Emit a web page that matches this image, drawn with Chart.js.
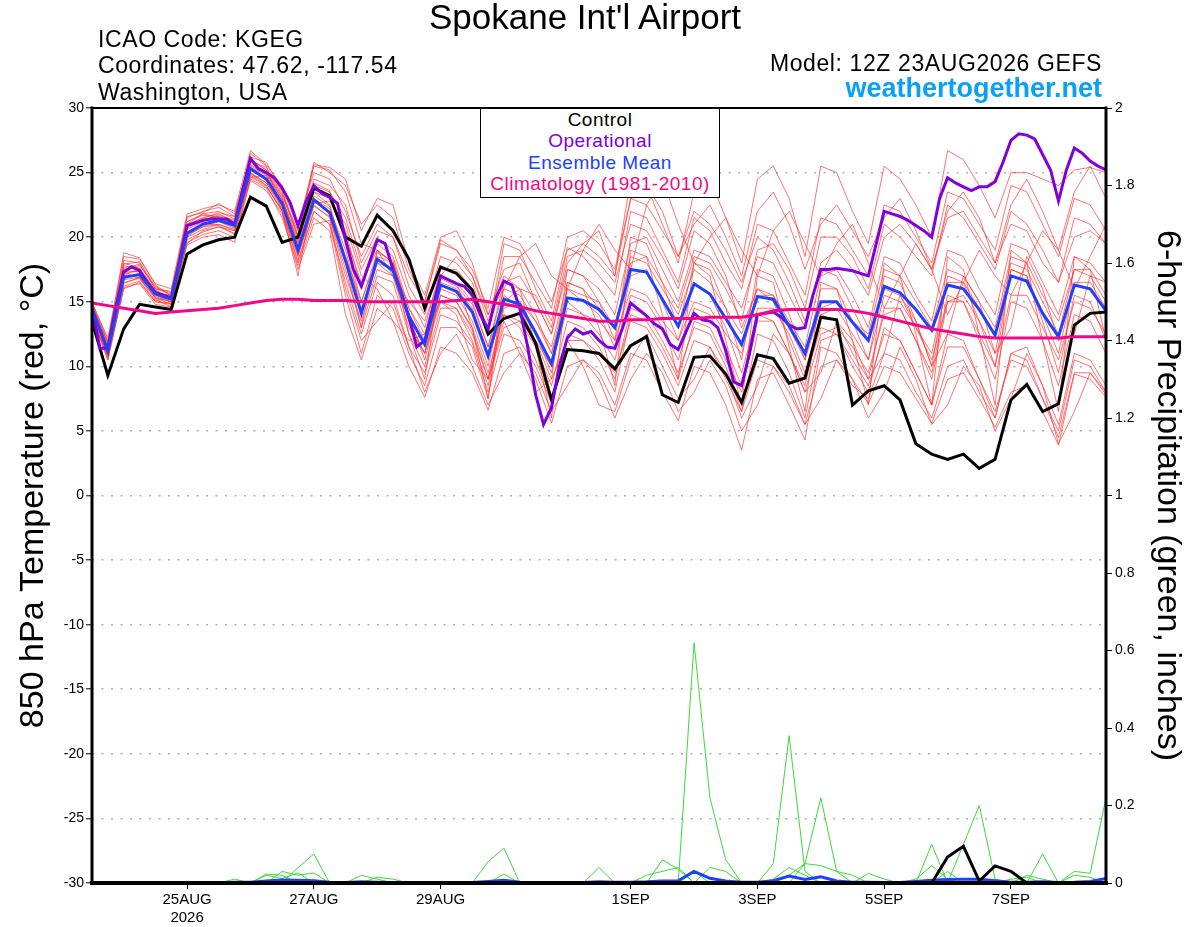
<!DOCTYPE html>
<html>
<head>
<meta charset="utf-8">
<title>Spokane Int'l Airport - GEFS meteogram</title>
<script src="https://cdn.jsdelivr.net/npm/chart.js@4.4.1/dist/chart.umd.min.js"></script>
<style>
  html, body { margin: 0; padding: 0; background: #fff; }
  #wrap { position: relative; width: 1200px; height: 927px; font-family: "Liberation Sans", Arial, sans-serif; color: #000; }
  #chart { position: absolute; left: 0; top: 0; }
  .txt { position: absolute; white-space: nowrap; }
  #title { left: 335px; width: 500px; top: -3px; text-align: center; font-size: 35px; }
  .info { left: 98px; font-size: 23px; letter-spacing: 0.6px; }
  .right { right: 98px; text-align: right; }
  #model { top: 50px; font-size: 23px; letter-spacing: 0.6px; }
  #site { top: 73px; font-size: 27px; font-weight: bold; color: #0aa0f5; }
  #legend {
    position: absolute; left: 480px; top: 108px; width: 240px; height: 90px;
    background: #fff; border: 1px solid #000; box-sizing: border-box;
    text-align: center; font-size: 19px; letter-spacing: 0.5px; line-height: 21.4px; padding-top: 0px;
  }
</style>
</head>
<body>
<div id="wrap">
  <canvas id="chart" width="1200" height="927"></canvas>
  <div class="txt" id="title">Spokane Int'l Airport</div>
  <div class="txt info" style="top:26px">ICAO Code: KGEG</div>
  <div class="txt info" style="top:52px">Coordinates: 47.62, -117.54</div>
  <div class="txt info" style="top:79px">Washington, USA</div>
  <div class="txt right" id="model">Model: 12Z 23AUG2026 GEFS</div>
  <div class="txt right" id="site">weathertogether.net</div>
  <div id="legend">
    <div style="color:#000">Control</div>
    <div style="color:#8000dc">Operational</div>
    <div style="color:#2040ff">Ensemble Mean</div>
    <div style="color:#f0088c">Climatology (1981-2010)</div>
  </div>
</div>
<script>
// Hours after 12Z 23AUG2026; the axis runs 16 days.
const AXIS_HOURS = 384;
const tickHours = [36, 84, 132, 204, 252, 300, 348];
const tickLabels = [["25AUG", "2026"], ["27AUG"], ["29AUG"], ["1SEP"], ["3SEP"], ["5SEP"], ["7SEP"]];

// 850 hPa temperature (degC), 6-hourly unless noted
const control = [13.5, 9.3, 12.9, 14.8, 14.6, 14.4, 18.7, 19.4, 19.8, 20.0,
  23.1, 22.4, 19.6, 20.0, 23.8, 23.2, 20.0, 19.3, 21.7, 20.5,
  18.3, 14.5, 17.7, 17.2, 15.9, 12.5, 13.7, 14.1, 11.8, 7.4,
  11.3, 11.2, 11.0, 9.8, 11.6, 12.3, 7.8, 7.2, 10.7, 10.8,
  9.4, 7.2, 10.9, 10.6, 8.7, 9.1, 13.8, 13.6, 7.0, 8.1,
  8.5, 7.4, 4.0, 3.2, 2.8, 3.2, 2.1, 2.8, 7.4, 8.6,
  6.5, 7.1, 13.2, 14.1, 14.2];

// operational run is 3-hourly
const operational = [14.5, 11.4, 11.4, 14.5, 17.3, 17.7, 17.4, 16.5, 15.7, 15.5,
  15.3, 18.0, 20.9, 21.1, 21.3, 21.4, 21.4, 21.4, 21.0, 23.6,
  26.1, 25.3, 25.0, 24.6, 23.8, 22.7, 20.9, 22.7, 24.0, 23.4,
  23.1, 22.6, 19.8, 17.5, 16.2, 18.0, 19.8, 19.5, 17.5, 15.8,
  13.8, 11.5, 12.0, 14.5, 17.0, 16.7, 16.4, 16.2, 15.5, 14.0,
  12.9, 15.3, 16.6, 16.3, 14.5, 11.5, 7.8, 5.5, 6.8, 10.0,
  12.2, 12.9, 12.5, 12.7, 12.0, 11.5, 11.4, 13.0, 14.9, 14.4,
  13.9, 13.3, 12.9, 11.7, 11.3, 12.7, 14.1, 13.6, 13.5, 13.0,
  11.2, 8.8, 8.5, 11.0, 14.0, 14.1, 14.2, 13.8, 13.2, 12.9,
  13.0, 15.5, 17.5, 17.5, 17.6, 17.5, 17.4, 17.2, 17.0, 19.5,
  22.0, 21.8, 21.6, 21.3, 20.9, 20.5, 20.0, 23.0, 24.6, 24.2,
  23.9, 23.6, 23.9, 23.9, 24.3, 25.8, 27.5, 28.0, 27.9, 27.6,
  26.4, 25.2, 22.8, 25.2, 26.9, 26.5, 25.9, 25.5, 25.2];

const ensembleMean = [14.5, 11.2, 16.9, 17.1, 15.6, 15.2, 20.3, 21.0, 21.3, 20.9,
  25.3, 24.5, 22.6, 19.0, 22.9, 21.9, 18.2, 14.1, 18.3, 17.4,
  13.9, 11.7, 16.3, 15.8, 14.2, 10.8, 15.2, 14.8, 12.6, 10.2,
  15.3, 15.1, 14.4, 13.0, 17.5, 17.3, 15.2, 13.1, 16.4, 15.6,
  13.7, 11.7, 15.4, 15.2, 13.1, 11.0, 15.0, 15.0, 13.4, 12.0,
  16.2, 15.7, 14.4, 12.8, 16.3, 16.0, 14.4, 12.4, 17.0, 16.6,
  14.1, 12.3, 16.3, 16.0, 14.3];

const climatology = [14.9, 14.7, 14.5, 14.3, 14.1, 14.2, 14.3, 14.4, 14.5, 14.7,
  14.9, 15.1, 15.2, 15.2, 15.1, 15.1, 15.1, 15.0, 15.0, 15.0,
  15.0, 15.0, 15.0, 15.1, 15.2, 15.0, 14.8, 14.6, 14.3, 14.1,
  13.9, 13.7, 13.5, 13.5, 13.6, 13.6, 13.7, 13.7, 13.7, 13.8,
  13.8, 13.8, 14.0, 14.3, 14.4, 14.4, 14.4, 14.4, 14.3, 14.1,
  13.8, 13.5, 13.2, 12.9, 12.7, 12.5, 12.3, 12.2, 12.2, 12.2,
  12.2, 12.2, 12.3, 12.3, 12.3];

// ensemble members, 850 hPa temperature
const ens01 = [14.8, 11.8, 18.2, 18.0, 16.0, 15.8, 21.5, 22.0, 22.3, 21.6,
  26.0, 25.2, 23.5, 20.2, 24.5, 24.0,
  22.5, 18.0, 20.5, 20.0, 16.2, 14.0, 18.5, 18.0, 16.5, 12.8,
  19.5, 19.0, 16.0, 13.5, 19.2, 18.5, 17.0, 15.5, 22.0, 21.5, 19.0, 16.5, 21.5, 20.5, 18.0,
  16.0, 21.0, 20.5, 18.0, 15.5, 21.5, 21.0, 19.0, 17.0, 22.5, 22.0, 20.0, 18.0, 23.5, 23.0, 21.0, 19.0, 24.0, 23.5, 21.0, 18.5, 23.0, 22.5, 20.5];
const ens02 = [14.0, 10.5, 16.0, 16.5, 15.0, 14.8, 19.5, 20.5, 20.8, 20.5,
  24.8, 24.0, 22.0, 18.2, 22.0, 21.0,
  16.5, 12.5, 16.5, 15.5, 11.5, 9.5, 14.0, 13.5, 11.8, 8.0,
  12.5, 12.0, 10.0, 7.2, 12.0, 12.0, 11.0, 9.5, 13.5, 13.0, 11.0, 8.5, 12.0, 11.5, 9.0,
  6.5, 10.5, 10.0, 8.0, 5.5, 10.0, 10.5, 8.5, 7.5, 11.0, 10.5, 8.0, 6.0, 10.0, 10.5, 8.0, 6.0, 11.0, 10.5, 7.5, 5.0, 10.5, 10.0, 8.0];
const ens03 = [15.0, 12.0, 17.5, 17.8, 16.2, 15.5, 20.8, 21.5, 21.8, 21.2,
  25.8, 25.0, 23.2, 20.5, 25.8, 25.0,
  24.0, 21.0, 22.5, 21.5, 17.5, 15.0, 19.8, 19.0, 17.0, 13.5,
  17.0, 16.0, 14.0, 11.0, 16.0, 15.5, 15.0, 13.0, 18.0, 18.5, 16.5, 14.5, 18.5, 18.0, 16.0,
  13.5, 19.0, 19.5, 17.5, 14.5, 20.0, 20.0, 18.5, 16.0, 21.0, 20.0, 18.5, 17.0, 22.5, 21.5, 19.5, 17.5, 22.0, 21.0, 19.0, 16.5, 21.5, 21.0, 19.5];
const ens04 = [14.2, 11.0, 16.5, 16.8, 15.4, 15.0, 20.0, 20.6, 21.0, 20.5,
  25.0, 24.0, 22.0, 18.0, 22.0, 21.0,
  15.5, 11.0, 15.5, 14.5, 11.0, 8.5, 13.0, 13.0, 11.5, 7.5,
  15.0, 16.0, 15.5, 13.0, 18.5, 19.0, 18.0, 16.5, 21.0, 20.5, 18.5, 16.0, 20.5, 19.5, 17.0,
  13.0, 16.0, 15.0, 12.0, 9.0, 13.0, 12.5, 10.5, 8.5, 12.5, 12.0, 9.5, 7.0, 11.5, 11.5, 9.0, 6.5, 10.5, 10.0, 7.5, 4.5, 9.5, 9.5, 7.8];
const ens05 = [14.6, 10.8, 18.0, 17.6, 15.2, 14.6, 21.0, 21.8, 21.5, 20.8,
  26.5, 25.5, 22.0, 17.0, 23.5, 22.5,
  18.0, 13.0, 19.0, 18.0, 12.5, 9.0, 17.0, 16.5, 13.0, 7.5,
  16.5, 16.0, 11.5, 6.0, 16.5, 16.0, 13.0, 8.5, 19.0, 18.5, 14.0, 9.0, 18.0, 17.0, 12.0,
  7.0, 17.0, 16.5, 11.5, 6.5, 16.5, 16.0, 12.0, 7.0, 18.0, 17.0, 12.5, 7.0, 18.5, 17.5, 12.5, 7.0, 19.0, 18.0, 12.0, 6.5, 18.5, 17.5, 12.0];
const ens06 = [14.9, 12.2, 18.5, 18.3, 16.4, 16.0, 21.8, 22.2, 22.5, 22.0,
  26.7, 25.6, 24.0, 21.0, 25.0, 24.5,
  22.0, 18.5, 21.0, 20.0, 17.0, 15.0, 19.5, 19.0, 17.5, 14.5,
  20.0, 19.5, 17.5, 15.0, 19.0, 19.5, 18.5, 17.0, 24.5, 24.0, 21.0, 18.0, 23.5, 24.5, 21.5,
  18.0, 24.5, 25.5, 23.0, 18.5, 25.5, 25.0, 22.0, 19.5, 25.5, 24.5, 22.5, 20.0, 26.7, 26.0, 24.0, 21.5, 25.0, 25.0, 24.5, 24.0, 25.2, 25.4, 25.0];
const ens07 = [13.8, 10.5, 16.2, 16.6, 15.0, 14.9, 19.4, 20.0, 20.2, 19.6,
  24.5, 23.8, 21.5, 17.8, 21.5, 20.5,
  14.0, 10.5, 14.5, 13.5, 10.0, 7.6, 11.5, 11.0, 9.5, 6.6,
  11.0, 11.5, 9.0, 5.6, 10.0, 10.5, 9.5, 7.0, 11.0, 10.5, 8.0, 5.8, 10.0, 9.5, 7.0,
  3.5, 9.0, 9.5, 7.0, 4.3, 11.5, 11.0, 9.0, 7.1, 10.0, 9.5, 7.5, 5.6, 9.0, 9.5, 7.5, 5.3, 8.0, 8.5, 6.5, 3.9, 9.4, 9.0, 7.6];
const ens08 = [14.3, 11.5, 17.2, 17.4, 15.8, 15.4, 20.6, 21.2, 21.5, 21.0,
  25.2, 24.6, 22.8, 19.5, 23.5, 23.0,
  20.5, 16.0, 19.5, 18.5, 14.5, 12.0, 16.5, 16.0, 14.5, 11.0,
  14.0, 13.5, 12.0, 10.0, 14.5, 14.0, 13.5, 12.0, 16.0, 15.5, 13.5, 12.0, 15.0, 14.5, 12.5,
  11.0, 15.5, 15.5, 13.5, 11.5, 17.0, 17.5, 15.5, 13.0, 18.5, 18.0, 15.5, 13.5, 19.0, 18.5, 16.0, 14.0, 19.5, 19.0, 16.5, 14.0, 18.5, 18.0, 16.5];
const ens09 = [14.7, 11.3, 17.0, 17.0, 15.5, 15.0, 20.2, 20.8, 21.0, 20.6,
  25.0, 24.2, 22.2, 18.5, 22.5, 21.5,
  17.0, 13.5, 17.5, 17.0, 13.5, 11.0, 15.5, 15.0, 13.0, 9.5,
  14.0, 13.0, 10.5, 7.5, 12.5, 12.0, 10.5, 8.0, 14.0, 13.5, 11.5, 9.0, 13.5, 13.0, 10.5,
  8.0, 13.5, 13.5, 11.0, 8.5, 14.0, 14.5, 12.5, 10.5, 15.5, 15.0, 13.0, 11.0, 16.5, 16.5, 14.5, 12.5, 18.0, 17.5, 15.0, 12.5, 17.5, 17.0, 15.0];
const ens10 = [14.4, 11.2, 17.6, 17.9, 16.0, 15.6, 21.2, 21.8, 22.0, 21.4,
  25.6, 25.0, 23.0, 19.8, 24.0, 23.5,
  21.5, 17.5, 20.0, 19.0, 15.5, 13.0, 17.5, 17.5, 16.0, 12.5,
  18.5, 18.5, 16.5, 14.5, 20.0, 20.5, 19.5, 17.5, 23.0, 22.5, 20.5, 18.5, 22.0, 21.0, 19.0,
  16.5, 20.0, 19.0, 16.5, 13.5, 17.5, 17.0, 14.5, 12.0, 16.0, 15.5, 13.0, 10.5, 15.0, 15.0, 12.5, 10.0, 15.5, 15.5, 13.0, 10.5, 15.0, 14.5, 12.5];
const ens11 = [14.1, 10.9, 16.7, 16.9, 15.3, 14.8, 19.8, 20.4, 20.8, 20.3,
  24.9, 24.2, 22.4, 19.0, 23.0, 22.2,
  19.0, 14.5, 18.0, 17.0, 13.0, 11.0, 16.0, 15.5, 13.5, 10.0,
  15.5, 14.5, 12.5, 9.5, 16.0, 15.0, 14.0, 11.5, 17.0, 17.5, 15.0, 12.0, 16.5, 15.5, 13.0,
  9.5, 14.0, 13.5, 11.0, 8.0, 12.5, 13.0, 11.5, 9.5, 14.0, 14.5, 12.0, 9.0, 15.0, 15.5, 13.5, 11.0, 17.5, 17.0, 14.0, 11.0, 16.5, 16.5, 14.5];
const ens12 = [14.5, 11.6, 17.8, 17.5, 15.9, 15.3, 20.7, 21.4, 21.6, 21.1,
  25.4, 24.8, 22.9, 19.3, 23.2, 22.4,
  18.5, 15.0, 18.5, 18.0, 14.0, 11.5, 16.8, 16.2, 14.8, 11.5,
  16.0, 15.5, 13.5, 11.5, 16.5, 16.0, 14.5, 13.0, 18.5, 18.0, 16.0, 14.0, 17.5, 16.5, 14.5,
  12.5, 16.0, 15.5, 13.0, 10.5, 14.5, 15.0, 13.5, 12.5, 17.5, 17.0, 15.0, 13.0, 17.5, 17.0, 15.0, 13.0, 18.5, 18.0, 15.5, 13.5, 17.5, 17.5, 15.5];
const ens13 = [14.6, 11.0, 16.8, 17.2, 15.6, 15.1, 20.4, 21.0, 21.2, 20.9,
  25.2, 24.4, 22.5, 18.8, 22.8, 21.8,
  18.0, 14.0, 18.0, 17.5, 13.5, 11.0, 15.0, 14.5, 12.5, 9.0,
  13.0, 13.5, 11.5, 8.5, 13.5, 13.0, 11.5, 9.0, 14.5, 14.0, 12.0, 9.5, 13.0, 12.5, 10.0,
  6.5, 12.5, 12.0, 9.5, 6.0, 12.0, 12.5, 10.0, 8.0, 13.0, 12.0, 9.5, 7.0, 12.5, 12.0, 9.0, 6.0, 11.0, 11.5, 8.5, 5.5, 11.0, 10.5, 8.5];
const ens14 = [14.3, 11.4, 17.4, 17.3, 15.7, 15.5, 20.9, 21.3, 21.7, 21.3,
  25.5, 24.9, 23.0, 19.6, 23.8, 23.0,
  20.0, 16.5, 19.0, 18.0, 14.5, 12.5, 17.0, 16.5, 15.0, 11.5,
  16.5, 17.0, 15.0, 12.5, 17.5, 17.0, 16.0, 14.0, 19.5, 20.0, 17.5, 15.0, 19.0, 18.5, 16.5,
  14.5, 18.5, 18.0, 15.5, 13.0, 18.0, 19.0, 17.5, 15.5, 20.0, 21.0, 19.5, 17.5, 21.5, 22.0, 20.0, 18.0, 21.0, 20.5, 18.0, 16.5, 20.0, 20.5, 19.5];
const ens15 = [14.8, 11.7, 17.9, 18.1, 16.1, 15.7, 21.0, 21.5, 21.9, 21.6,
  26.0, 25.2, 23.3, 20.0, 24.2, 23.6,
  19.5, 15.0, 18.8, 18.2, 14.0, 10.5, 15.5, 15.0, 12.8, 9.0,
  15.0, 14.5, 12.0, 9.0, 17.5, 17.0, 15.0, 12.0, 20.0, 19.5, 16.5, 13.0, 18.0, 17.5, 14.5,
  10.5, 17.5, 17.0, 14.0, 10.5, 16.0, 16.0, 13.5, 10.5, 17.0, 16.5, 13.5, 10.0, 17.0, 16.5, 13.5, 10.0, 17.5, 17.0, 13.5, 9.5, 15.5, 15.0, 12.0];
const ens16 = [14.0, 10.8, 16.4, 16.9, 15.3, 15.0, 20.1, 20.8, 21.2, 20.7,
  24.7, 23.9, 22.1, 18.6, 22.4, 21.6,
  17.5, 13.0, 17.0, 16.5, 12.5, 10.0, 14.5, 14.5, 12.0, 8.5,
  14.5, 15.0, 13.5, 11.0, 15.0, 14.0, 12.5, 10.5, 15.5, 15.0, 13.0, 10.5, 14.5, 14.0, 11.5,
  8.5, 14.5, 14.5, 12.5, 9.5, 14.0, 13.5, 11.0, 9.0, 14.5, 14.5, 12.0, 9.5, 15.5, 15.0, 12.0, 9.0, 15.0, 14.5, 12.0, 8.5, 14.0, 13.5, 11.0];
const ens17 = [14.2, 11.6, 17.0, 17.6, 15.9, 15.2, 21.2, 21.7, 21.6, 21.0,
  25.9, 25.4, 23.8, 20.8, 25.5, 25.2,
  23.5, 19.5, 19.0, 17.0, 15.0, 13.5, 17.0, 18.5, 17.0, 14.0,
  16.0, 18.5, 19.5, 17.0, 16.0, 19.0, 21.0, 19.0, 17.5, 22.5, 24.5, 21.0, 18.0, 20.0, 21.5,
  19.0, 17.0, 20.5, 22.0, 19.5, 17.0, 19.5, 21.0, 18.0, 14.5, 17.0, 19.5, 17.5, 14.0, 16.5, 19.0, 17.0, 15.5, 18.0, 20.5, 19.0, 16.0, 18.5, 21.0];
const ens18 = [14.4, 10.9, 17.3, 16.8, 15.1, 15.3, 20.0, 21.1, 20.9, 20.2,
  24.6, 24.8, 22.6, 19.2, 22.6, 22.8,
  21.0, 17.0, 16.0, 13.5, 12.0, 12.5, 15.0, 14.0, 10.5, 9.0,
  13.5, 11.0, 8.0, 9.0, 12.0, 10.0, 7.0, 6.5, 10.5, 12.5, 10.0, 7.5, 9.0, 11.5, 9.5,
  6.0, 8.5, 12.5, 11.0, 8.0, 9.5, 13.5, 12.0, 9.0, 11.0, 15.5, 13.5, 10.0, 12.5, 17.0, 15.0, 11.0, 13.0, 18.5, 16.0, 12.0, 12.5, 17.0, 16.5];
const ens19 = [14.7, 11.9, 18.8, 18.4, 16.3, 15.4, 21.6, 21.9, 22.6, 21.8,
  26.2, 25.8, 23.6, 20.0, 25.6, 25.4,
  24.5, 20.5, 23.0, 22.5, 18.0, 15.5, 20.0, 20.5, 18.0, 14.0,
  17.5, 18.0, 15.0, 12.5, 18.0, 19.5, 20.5, 17.0, 23.0, 24.0, 22.0, 18.5, 21.0, 22.5, 20.0,
  17.0, 22.0, 23.5, 21.0, 17.5, 21.0, 22.5, 20.5, 18.5, 21.5, 23.0, 20.5, 17.5, 22.0, 23.5, 21.5, 18.0, 22.5, 24.5, 22.0, 19.0, 23.5, 25.5, 23.0];
const ens20 = [13.9, 10.7, 16.1, 16.4, 14.8, 14.6, 19.6, 20.2, 20.5, 20.0,
  24.4, 23.6, 21.8, 17.5, 21.0, 21.3,
  16.0, 12.0, 13.5, 15.0, 11.5, 8.0, 11.0, 12.5, 10.0, 7.0,
  9.5, 11.0, 9.5, 6.5, 8.5, 10.5, 9.0, 6.0, 9.0, 11.0, 9.5, 6.5, 8.0, 10.5, 8.5,
  5.0, 7.0, 10.0, 8.5, 5.5, 7.5, 10.5, 9.0, 6.0, 8.0, 11.5, 9.0, 5.5, 7.0, 10.0, 8.5, 5.0, 7.5, 11.0, 8.5, 4.0, 6.5, 9.5, 8.0];
const ensMembers = [ens01, ens02, ens03, ens04, ens05, ens06, ens07, ens08, ens09, ens10,
  ens11, ens12, ens13, ens14, ens15, ens16, ens17, ens18, ens19, ens20];

// 6-hour precipitation (inches)
const controlPrecip = [0, 0, 0, 0, 0, 0, 0, 0, 0, 0,
  0, 0, 0, 0, 0, 0, 0, 0, 0, 0,
  0, 0, 0, 0, 0, 0, 0, 0, 0, 0,
  0, 0, 0, 0, 0, 0, 0, 0, 0, 0,
  0, 0, 0, 0, 0, 0, 0, 0, 0, 0,
  0, 0, 0, 0, 0.067, 0.095, 0.005, 0.044, 0.030, 0,
  0, 0, 0, 0, 0];
const meanPrecip = [0, 0, 0, 0, 0, 0, 0, 0, 0, 0.002,
  0.002, 0.005, 0.008, 0.007, 0.006, 0.002, 0.001, 0.003, 0.002, 0.001,
  0, 0, 0, 0, 0.001, 0.004, 0.007, 0.002, 0, 0,
  0, 0.001, 0.003, 0.002, 0.002, 0.003, 0.005, 0.006, 0.030, 0.012,
  0.005, 0.002, 0.002, 0.006, 0.018, 0.009, 0.016, 0.005, 0.002, 0.002,
  0.001, 0.001, 0.004, 0.007, 0.009, 0.010, 0.010, 0.006, 0.002, 0.002,
  0.003, 0.001, 0.002, 0.004, 0.012];
const prcp01 = [0, 0, 0, 0, 0, 0, 0, 0, 0, 0,
  0, 0, 0, 0.040, 0.075, 0, 0, 0, 0, 0,
  0, 0, 0, 0, 0, 0, 0, 0, 0, 0,
  0, 0, 0, 0, 0, 0, 0, 0, 0.620, 0.220,
  0.060, 0, 0, 0, 0, 0, 0, 0, 0, 0,
  0, 0, 0, 0, 0, 0, 0, 0, 0, 0,
  0, 0, 0, 0, 0];
const prcp02 = [0, 0, 0, 0, 0, 0, 0, 0, 0, 0,
  0, 0, 0, 0, 0, 0, 0, 0, 0, 0,
  0, 0, 0, 0, 0, 0.055, 0.090, 0, 0, 0,
  0, 0, 0, 0, 0, 0, 0, 0, 0, 0,
  0, 0, 0, 0.050, 0.380, 0.030, 0, 0, 0, 0,
  0, 0, 0, 0, 0, 0, 0, 0, 0, 0,
  0, 0, 0, 0, 0];
const prcp03 = [0, 0, 0, 0, 0, 0, 0, 0, 0, 0,
  0, 0, 0, 0, 0, 0, 0, 0, 0, 0,
  0, 0, 0, 0, 0, 0, 0, 0, 0, 0,
  0, 0, 0.040, 0, 0, 0, 0, 0, 0, 0,
  0, 0, 0, 0, 0, 0.050, 0.220, 0.030, 0, 0,
  0, 0, 0, 0.100, 0, 0, 0, 0, 0, 0,
  0, 0, 0, 0, 0];
const prcp04 = [0, 0, 0, 0, 0, 0, 0, 0, 0, 0,
  0, 0, 0, 0, 0, 0, 0, 0, 0, 0,
  0, 0, 0, 0, 0, 0, 0, 0, 0, 0,
  0, 0, 0, 0, 0, 0, 0, 0, 0, 0,
  0, 0, 0, 0, 0, 0, 0, 0, 0, 0,
  0, 0, 0, 0, 0, 0.100, 0.200, 0.010, 0, 0,
  0.075, 0, 0.030, 0.025, 0.220];
const prcp05 = [0, 0, 0, 0, 0, 0, 0, 0, 0, 0,
  0, 0.023, 0.020, 0, 0, 0, 0, 0, 0, 0,
  0, 0, 0, 0, 0, 0, 0, 0, 0, 0,
  0, 0, 0, 0, 0, 0, 0.060, 0.035, 0, 0,
  0, 0, 0, 0, 0, 0, 0, 0, 0, 0,
  0, 0, 0.010, 0.045, 0.010, 0, 0, 0, 0, 0,
  0, 0, 0, 0, 0];
const prcp06 = [0, 0, 0, 0, 0, 0, 0, 0, 0, 0.010,
  0, 0.020, 0.012, 0.026, 0, 0, 0, 0.020, 0.010, 0,
  0, 0, 0, 0, 0, 0, 0.023, 0, 0, 0,
  0, 0, 0, 0, 0, 0, 0, 0, 0, 0.040,
  0.030, 0, 0, 0, 0, 0, 0, 0, 0, 0.025,
  0.010, 0, 0, 0, 0, 0, 0, 0, 0, 0.020,
  0.010, 0, 0, 0, 0];
const prcp07 = [0, 0, 0, 0, 0, 0, 0, 0, 0, 0,
  0, 0, 0, 0, 0, 0, 0, 0, 0, 0,
  0, 0, 0, 0, 0, 0, 0, 0, 0, 0,
  0, 0, 0, 0, 0, 0.020, 0.030, 0.040, 0, 0,
  0, 0, 0, 0, 0.020, 0.050, 0.045, 0.030, 0.020, 0,
  0, 0, 0, 0, 0.030, 0, 0, 0, 0, 0,
  0, 0, 0.020, 0.015, 0];
const prcp08 = [0, 0, 0, 0, 0, 0, 0, 0, 0, 0,
  0, 0, 0.030, 0.020, 0.026, 0, 0, 0, 0.015, 0.010,
  0, 0, 0, 0, 0, 0, 0, 0, 0, 0,
  0, 0, 0, 0, 0, 0, 0, 0, 0.030, 0,
  0, 0, 0, 0.010, 0.040, 0.020, 0, 0, 0, 0,
  0, 0, 0, 0, 0, 0, 0, 0, 0.010, 0.015,
  0, 0, 0, 0, 0];
const precipMembers = [prcp01, prcp02, prcp03, prcp04, prcp05, prcp06, prcp07, prcp08];

const colors = {
  member: "rgba(255, 50, 50, 0.68)",
  precip: "#3cd83c",
  control: "#000000",
  operational: "#8000dc",
  mean: "#2040ff",
  climatology: "#f0088c",
};

// x positions in hours for 6-hourly and 3-hourly series
function toPoints(values, stepHours) {
  return values.map((v, i) => ({ x: i * stepHours, y: v }));
}

function lineSet(label, values, stepHours, color, width, order, axis) {
  return {
    label,
    data: toPoints(values, stepHours),
    borderColor: color,
    borderWidth: width,
    order,
    yAxisID: axis || "y",
    pointRadius: 0,
    fill: false,
    tension: 0,
  };
}

const datasets = [];
ensMembers.forEach((m, i) => datasets.push(lineSet("member " + (i + 1), m, 6, colors.member, 1, 50)));
precipMembers.forEach((m, i) => datasets.push(lineSet("precip " + (i + 1), m, 6, colors.precip, 1, 40, "y2")));
datasets.push(lineSet("Mean precip", meanPrecip, 6, colors.mean, 3, 30, "y2"));
datasets.push(lineSet("Control precip", controlPrecip, 6, colors.control, 3, 25, "y2"));
datasets.push(lineSet("Control", control, 6, colors.control, 3, 20));
datasets.push(lineSet("Operational", operational, 3, colors.operational, 3, 15));
datasets.push(lineSet("Ensemble Mean", ensembleMean, 6, colors.mean, 3, 10));
datasets.push(lineSet("Climatology (1981-2010)", climatology, 6, colors.climatology, 3, 5));

/** Heavy black frame round the plot area, GrADS style */
const framePlugin = {
  id: "frame",
  afterDatasetsDraw(chart) {
    const { ctx, chartArea: a } = chart;
    ctx.save();
    ctx.strokeStyle = "#000";
    ctx.lineCap = "square";
    const seg = (w, x1, y1, x2, y2) => {
      ctx.lineWidth = w;
      ctx.beginPath();
      ctx.moveTo(x1, y1);
      ctx.lineTo(x2, y2);
      ctx.stroke();
    };
    seg(2, a.left, a.top, a.right, a.top);
    seg(3, a.left, a.top, a.left, a.bottom);
    seg(3, a.right, a.top, a.right, a.bottom);
    seg(4, a.left, a.bottom, a.right, a.bottom);
    ctx.restore();
  },
};

const tickFont = { family: "'Liberation Sans', Arial, sans-serif", size: 14 };
const titleFont = { family: "'Liberation Sans', Arial, sans-serif", size: 34 };

Chart.defaults.color = "#000";

new Chart(document.getElementById("chart"), {
  type: "line",
  data: { datasets },
  options: {
    responsive: false,
    animation: false,
    devicePixelRatio: 1,
    layout: { padding: { top: 108, left: 0, right: 0, bottom: 0 } },
    plugins: { legend: { display: false }, tooltip: { enabled: false } },
    scales: {
      x: {
        type: "linear",
        min: 0,
        max: AXIS_HOURS,
        afterFit: (s) => { s.height = 44; },
        afterBuildTicks: (s) => { s.ticks = tickHours.map((v) => ({ value: v })); },
        grid: { drawOnChartArea: false, drawTicks: true, tickLength: 6, tickColor: "#000", tickWidth: 1 },
        border: { display: false },
        ticks: {
          autoSkip: false,
          maxRotation: 0,
          padding: 2,
          font: { family: tickFont.family, size: 15 },
          color: "#000",
          callback: (v) => {
            const k = tickHours.indexOf(v);
            return k >= 0 ? tickLabels[k] : "";
          },
        },
      },
      y: {
        position: "left",
        min: -30,
        max: 30,
        afterFit: (s) => { s.width = 92; },
        ticks: { stepSize: 5, font: tickFont, color: "#000", padding: 2 },
        grid: {
          color: (c) => (Math.abs(c.tick.value) === 30 ? "rgba(0,0,0,0)" : "#b0b0b0"),
          lineWidth: 1.6,
          tickColor: "#000",
          tickLength: 6,
          tickWidth: 1,
        },
        border: { display: false, dash: [2, 7.5] },
        title: {
          display: true,
          text: "850 hPa Temperature (red, \u00b0C)",
          font: titleFont,
          color: "#000",
          padding: { top: 13, bottom: 0 },
        },
      },
      y2: {
        position: "right",
        min: 0,
        max: 2,
        afterFit: (s) => { s.width = 94; },
        ticks: {
          stepSize: 0.2,
          font: tickFont,
          color: "#000",
          padding: 3,
          callback: (v) => String(Math.round(v * 10) / 10),
        },
        grid: { drawOnChartArea: false, tickColor: "#000", tickLength: 6, tickWidth: 1 },
        border: { display: false },
        title: {
          display: true,
          text: "6-hour Precipitation (green, inches)",
          font: titleFont,
          color: "#000",
          padding: { top: 12, bottom: 0 },
        },
      },
    },
  },
  plugins: [framePlugin],
});
</script>
</body>
</html>
